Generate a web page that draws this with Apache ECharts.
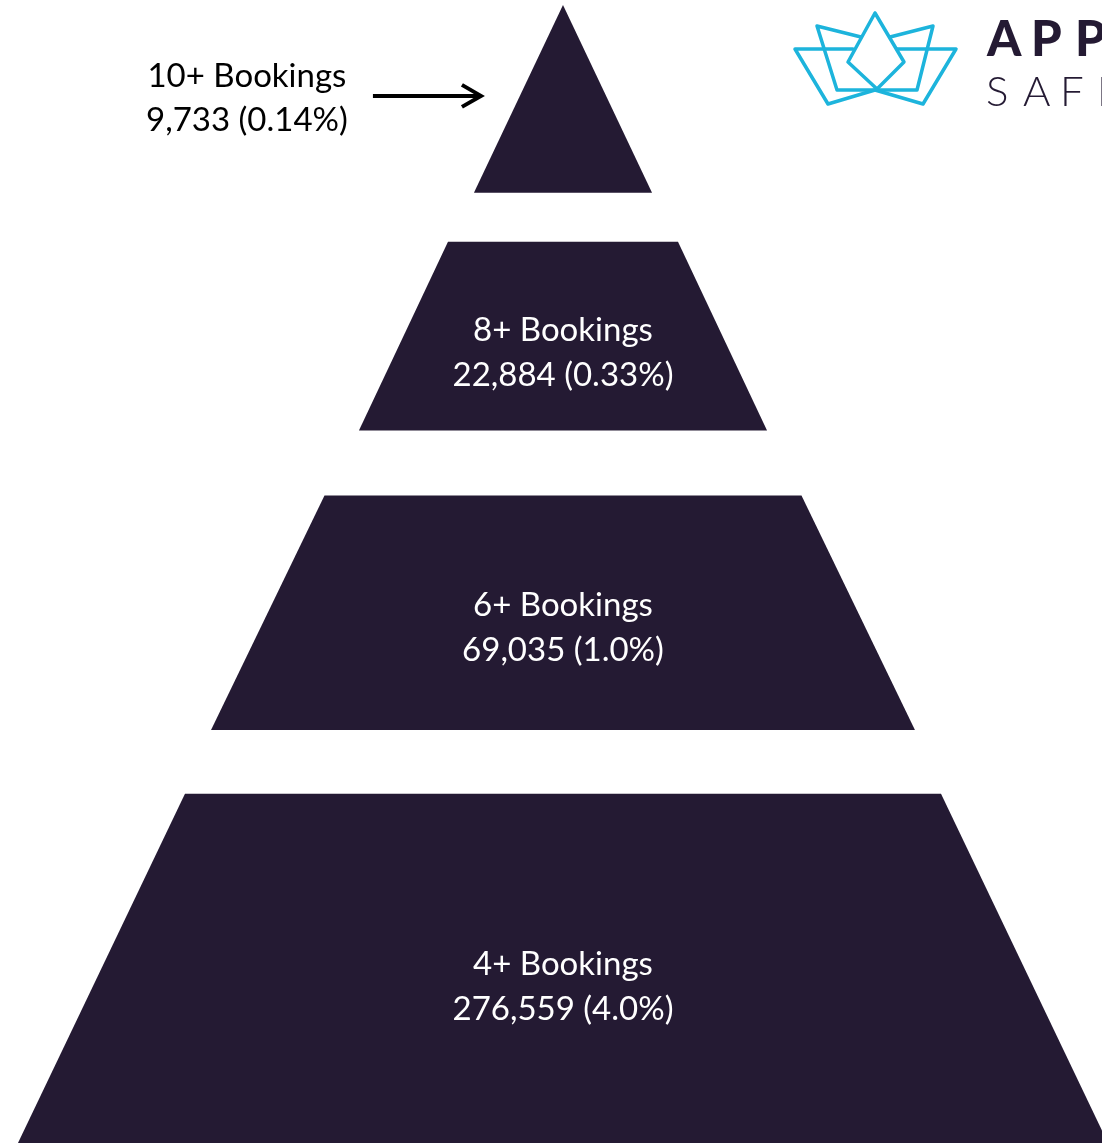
<!DOCTYPE html>
<html>
<head>
  <meta charset="utf-8" />
  <title>Bookings pyramid</title>
  <style type="text/css">
  body, html, #main {width: 100%; height: 100%; overflow: hidden; margin: 0; background: #fff;}
  </style>
  <script src="https://cdn.jsdelivr.net/npm/echarts@6/dist/echarts.min.js"></script>
</head>
<body>
<div id="main"></div>
<script type="text/javascript">
// 数据：每层名称、人数、占比
var tierNames = ['10+ Bookings', '8+ Bookings', '6+ Bookings', '4+ Bookings'];
var tierCounts = [9733, 22884, 69035, 276559];
var tierShares = ['0.14%', '0.33%', '1.0%', '4.0%'];
// 每层在金字塔中的深度（顶点 0，底边 100）
var tierTop = [0, 20.8, 43.1, 69.3];
var tierBottom = [16.5, 37.4, 63.7, 100];
// 每层上下边的半宽（底边半宽 = 50）
var tierTopHalf = [0, 10.55, 21.88, 34.68];
var tierBottomHalf = [8.17, 18.72, 32.29, 50];

var DARK = '#241a33';
var LOGO = '#1db4dc';
var FONT = 'Lato, "Noto Sans", sans-serif';

var chart = echarts.init(document.getElementById('main'));

function fmt(n) {
    return n.toString().replace(/\B(?=(\d{3})+(?!\d))/g, ',');
}

function renderTier(params, api) {
    var i = api.value(0);
    var t = tierTop[i], b = tierBottom[i];
    var p1 = api.coord([-tierTopHalf[i], t]);
    var p2 = api.coord([tierTopHalf[i], t]);
    var p3 = api.coord([tierBottomHalf[i], b]);
    var p4 = api.coord([-tierBottomHalf[i], b]);
    var text = tierNames[i] + '\n' + fmt(tierCounts[i]) + ' (' + tierShares[i] + ')';
    var children = [{
        type: 'polygon',
        shape: {points: [p1, p2, p3, p4]},
        style: {fill: DARK}
    }];
    if (i === 0) {
        // 最小一层：标签放左侧，加箭头
        var midY = (p1[1] + p3[1]) / 2 - 1;
        var textRight = p4[0] - 123;
        children.push({
            type: 'text',
            style: {
                text: text, x: textRight - 104, y: midY,
                fill: '#000', font: '33px ' + FONT,
                align: 'center', verticalAlign: 'middle', lineHeight: 44
            }
        });
        var ax0 = textRight + 22, ax1 = p4[0] + 7, ay = midY - 2;
        children.push({
            type: 'line',
            shape: {x1: ax0, y1: ay, x2: ax1 - 3, y2: ay},
            style: {stroke: '#000', lineWidth: 4}
        });
        children.push({
            type: 'polyline',
            shape: {points: [[ax1 - 19, ay - 11], [ax1, ay], [ax1 - 19, ay + 11]]},
            style: {stroke: '#000', lineWidth: 4, fill: null}
        });
    } else {
        // 梯形质心位置
        var a = p2[0] - p1[0], w = p3[0] - p4[0], h = p4[1] - p1[1];
        var cy = p1[1] + h * (a + 2 * w) / (3 * (a + w)) + 8;
        children.push({
            type: 'text',
            style: {
                text: text, x: (p1[0] + p2[0]) / 2, y: cy,
                fill: '#fff', font: '33px ' + FONT,
                align: 'center', verticalAlign: 'middle', lineHeight: 45
            }
        });
    }
    return {type: 'group', children: children};
}

// logo（右上角）
var logoLines = [
    [[853, 49], [795, 49], [828, 104], [875, 90], [923, 104], [956, 49], [897, 49]],
    [[861, 37], [817, 26], [837, 90], [917, 90], [933, 26], [890, 37]],
    [[875, 13], [904, 62], [877, 89], [848, 62], [875, 13]]
];
var logoGraphics = logoLines.map(function (pts) {
    return {
        type: 'polyline', shape: {points: pts},
        style: {stroke: LOGO, lineWidth: 3.5, fill: null, lineJoin: 'round', lineCap: 'round'}
    };
});
['A', 'P', 'P', 'S'].forEach(function (ch, k) {
    logoGraphics.push({
        type: 'text', left: 987 + k * 44, top: 16,
        style: {text: ch, fill: DARK, font: '900 49px ' + FONT}
    });
});
['S', 'A', 'F', 'E'].forEach(function (ch, k) {
    logoGraphics.push({
        type: 'text', left: 986 + k * 37, top: 71,
        style: {text: ch, fill: DARK, font: '300 42px ' + FONT}
    });
});

var option = {
    animation: false,
    grid: {left: 0, right: 0, top: 5, bottom: 3},
    xAxis: {type: 'value', min: -51.65, max: 49.45, show: false},
    yAxis: {type: 'value', min: 0, max: 100, inverse: true, show: false},
    graphic: logoGraphics,
    series: [{
        type: 'custom',
        renderItem: renderTier,
        data: tierNames.map(function (n, i) { return [i]; }),
        encode: {x: -1, y: -1}
    }]
};
chart.setOption(option);
</script>
</body>
</html>
